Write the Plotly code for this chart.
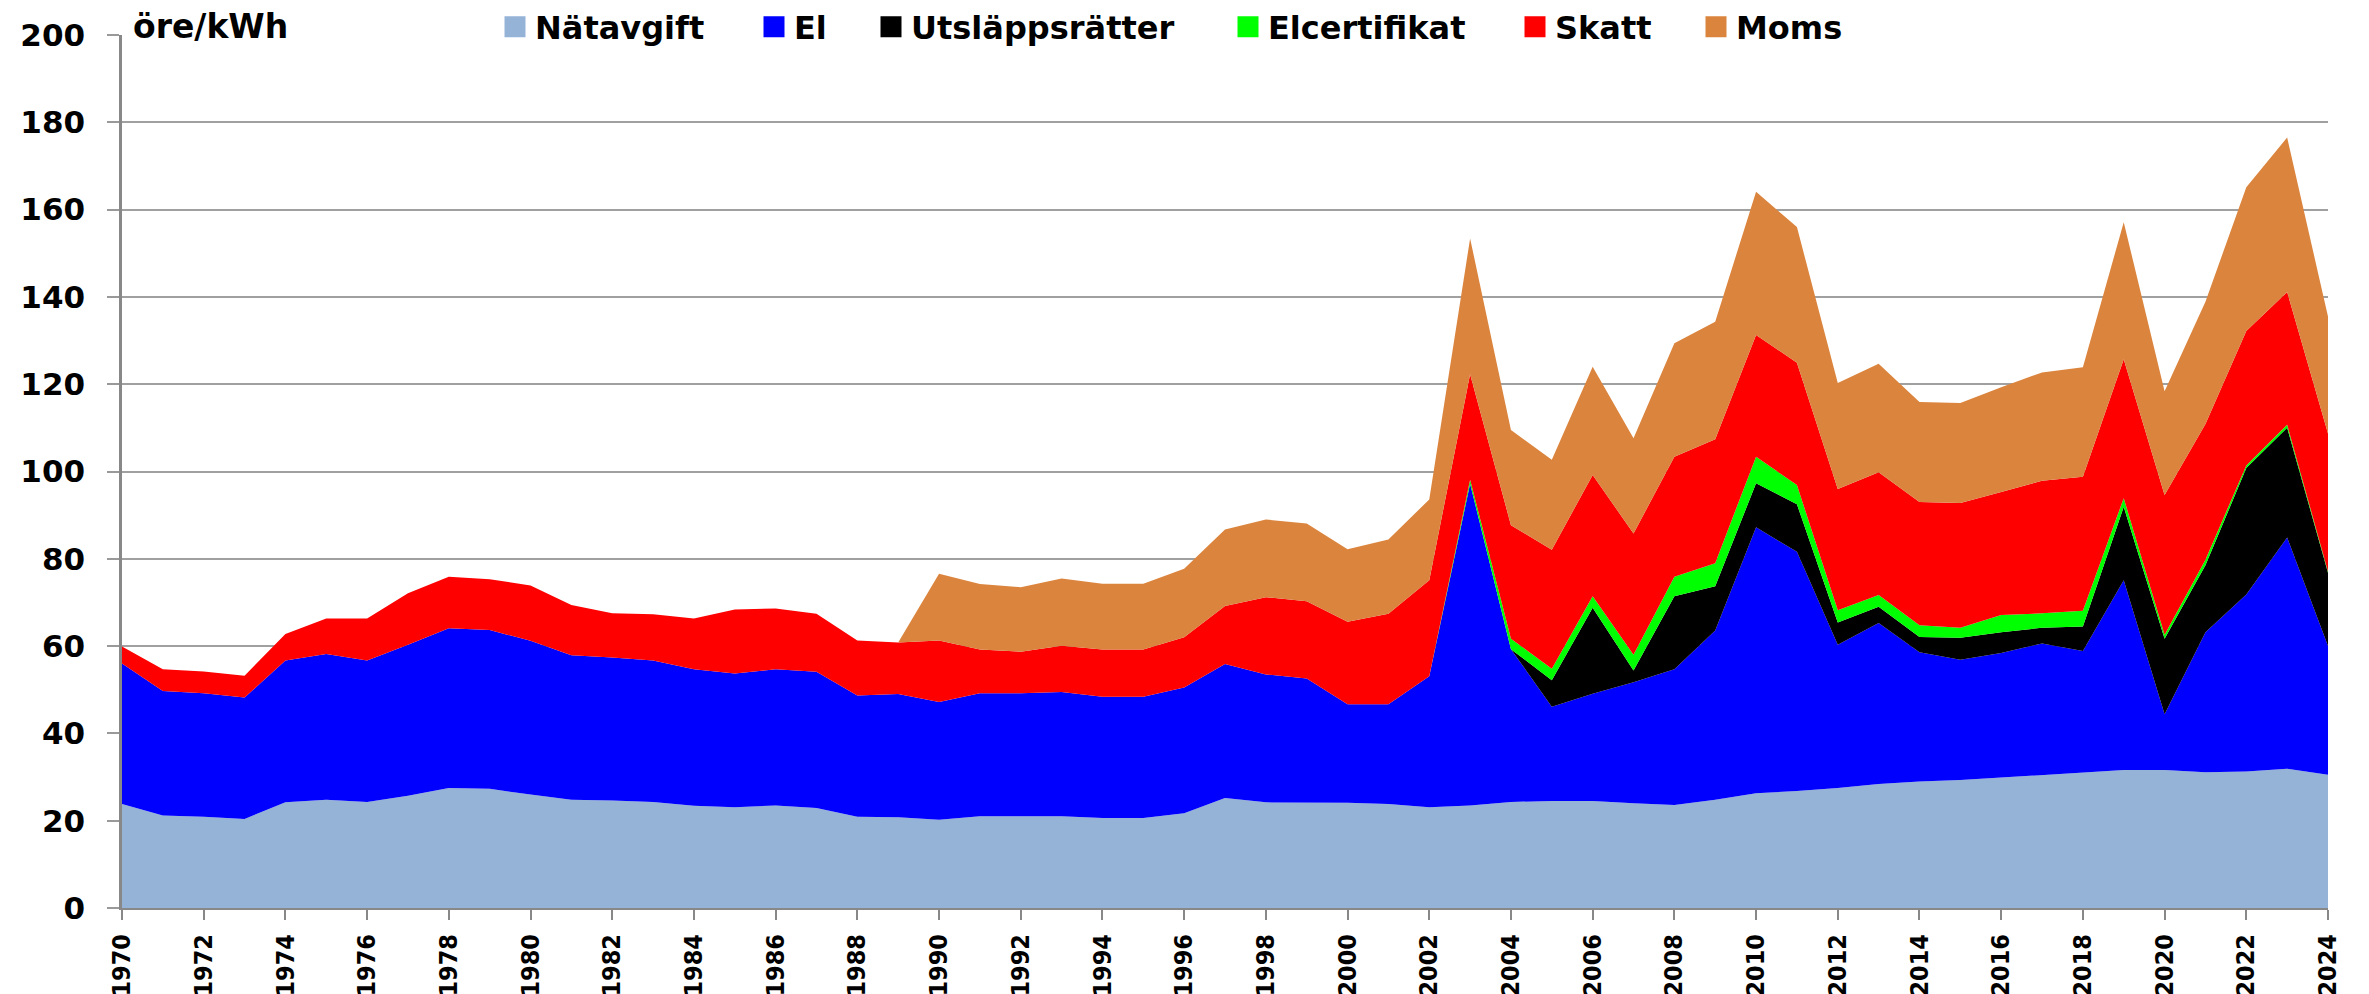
import plotly.graph_objects as go

years = list(range(1970, 2025))

natavgift = [23.8, 21.2, 20.9, 20.4, 24.2, 24.8, 24.3, 25.7, 27.5, 27.3,
             26.0, 24.8, 24.6, 24.3, 23.4, 23.1, 23.5, 22.9, 20.9, 20.8,
             20.2, 21.0, 21.0, 21.0, 20.6, 20.6, 21.7, 25.2, 24.2, 24.2,
             24.1, 23.8, 23.1, 23.5, 24.3, 24.5, 24.5, 24.0, 23.6, 24.8,
             26.3, 26.8, 27.5, 28.4, 29.0, 29.3, 29.9, 30.5, 31.1, 31.6,
             31.6, 31.1, 31.3, 31.9, 30.5]

el = [32.2, 28.5, 28.3, 27.8, 32.5, 33.4, 32.4, 34.6, 36.6, 36.4,
      35.2, 33.1, 32.8, 32.4, 31.3, 30.6, 31.2, 31.2, 27.8, 28.2,
      27.0, 28.2, 28.2, 28.5, 27.8, 27.8, 28.8, 30.7, 29.3, 28.4,
      22.6, 22.9, 30.0, 73.7, 35.0, 21.6, 24.6, 27.7, 31.1, 38.8,
      60.9, 54.8, 32.8, 36.9, 29.6, 27.6, 28.5, 30.1, 27.8, 43.5,
      12.8, 32.1, 40.5, 53.0, 29.5]

utslappsratter = [0] * 34 + [0.0, 6.1, 19.7, 2.7, 16.7, 10.1,
                             10.1, 10.9, 5.1, 3.7, 3.5, 5.0, 4.8, 3.6, 5.6, 16.8,
                             17.3, 15.3, 29.0, 25.1, 16.8]

elcertifikat = [0] * 33 + [0.9, 2.4, 2.6, 2.6, 3.6, 4.5, 5.3,
                           6.1, 4.4, 2.8, 2.7, 2.7, 2.3, 3.9, 3.3, 3.6, 2.0,
                           0.9, 1.3, 0.6, 0.7, 0.3]

skatt = [3.9, 5.0, 5.0, 5.0, 6.1, 8.1, 9.6, 11.8, 11.8, 11.6,
         12.7, 11.5, 10.1, 10.6, 11.6, 14.7, 13.9, 13.3, 12.6, 11.8,
         14.1, 10.0, 9.5, 10.6, 10.8, 10.8, 11.5, 13.3, 17.7, 17.7,
         18.9, 20.7, 22.0, 24.2, 26.0, 27.3, 27.8, 27.8, 27.5, 28.4,
         27.9, 28.0, 27.8, 28.1, 28.2, 28.6, 28.2, 30.4, 30.7, 31.8,
         32.0, 31.1, 30.8, 30.4, 31.6]

moms = [0] * 20 + [15.3, 15.0, 14.8, 15.4, 15.1, 15.1, 15.7, 17.5, 17.8, 17.8,
                   16.6, 17.0, 18.5, 31.1, 21.8, 20.6, 24.8, 21.8, 26.0, 26.9,
                   32.8, 31.1, 24.3, 24.9, 22.9, 22.9, 24.0, 24.8, 25.1, 31.4,
                   23.8, 28.0, 32.9, 35.4, 26.8]

series = [
    ("Nätavgift", natavgift, "#95B3D7"),
    ("El", el, "#0000FF"),
    ("Utsläppsrätter", utslappsratter, "#000000"),
    ("Elcertifikat", elcertifikat, "#00FF00"),
    ("Skatt", skatt, "#FF0000"),
    ("Moms", moms, "#DB843D"),
]

y_ticks = list(range(0, 201, 20))
x_ticks = list(range(1970, 2025, 2))

# figure geometry (the page adds an 8px body margin)
W, H = 2369, 994
L, R, T, B = 114, 49, 27, 94
pw, ph = W - L - R, H - T - B

# left edges (page px) of each legend entry
legend_left_px = [495, 754, 871, 1228, 1515, 1696]

fig = go.Figure()
for name, vals, col in series:
    fig.add_trace(go.Scatter(
        x=years, y=vals, name=name, mode="lines", stackgroup="one",
        line=dict(width=0, color=col), fillcolor=col, showlegend=False,
    ))

legend_layouts = {}
for i, (name, vals, col) in enumerate(series):
    lname = "legend" if i == 0 else f"legend{i + 1}"
    fig.add_trace(go.Scatter(
        x=[None], y=[None], name=name, mode="markers",
        marker=dict(symbol="square", size=16, color=col, line=dict(color=col, width=5)),
        showlegend=True, legend=lname,
    ))
    legend_layouts[lname] = dict(
        orientation="h",
        x=(legend_left_px[i] - 8 - L) / pw, xanchor="left",
        y=1 + 8 / ph, yanchor="middle",
        font=dict(family="DejaVu Sans", size=32, color="black", weight="bold"),
        bgcolor="rgba(0,0,0,0)", itemwidth=30,
    )

fig.update_layout(
    width=W, height=H,
    margin=dict(l=L, r=R, t=T, b=B, autoexpand=False),
    paper_bgcolor="white", plot_bgcolor="white",
    showlegend=True,
    annotations=[dict(
        text="öre/kWh", xref="paper", yref="paper",
        x=(123 - L) / pw, y=1 + 9 / ph, xanchor="left", yanchor="middle",
        showarrow=False,
        font=dict(family="DejaVu Sans", size=33, color="black", weight="bold"),
    )],
    **legend_layouts,
)

fig.update_xaxes(
    range=[1970, 2024], tickmode="array", tickvals=x_ticks,
    ticktext=[str(t) for t in x_ticks], tickangle=-90,
    ticks="outside", ticklen=10, tickwidth=2, tickcolor="#888888",
    showline=True, linecolor="#888888", linewidth=2,
    showgrid=False, zeroline=False, automargin=False,
    tickfont=dict(family="DejaVu Sans Condensed, Liberation Sans Narrow, sans-serif",
                  size=25, color="black", weight="bold"),
    ticklabelstandoff=4,
)
fig.update_yaxes(
    range=[0, 200], tickmode="array", tickvals=y_ticks,
    ticks="outside", ticklen=12, tickwidth=2, tickcolor="#999999",
    showline=True, linecolor="#888888", linewidth=2.5,
    showgrid=True, gridcolor="#A0A0A0", gridwidth=2,
    zeroline=False, automargin=False,
    tickfont=dict(family="DejaVu Sans", size=31, color="black", weight="bold"),
    ticklabelstandoff=16,
)

fig.write_html("out.html")
